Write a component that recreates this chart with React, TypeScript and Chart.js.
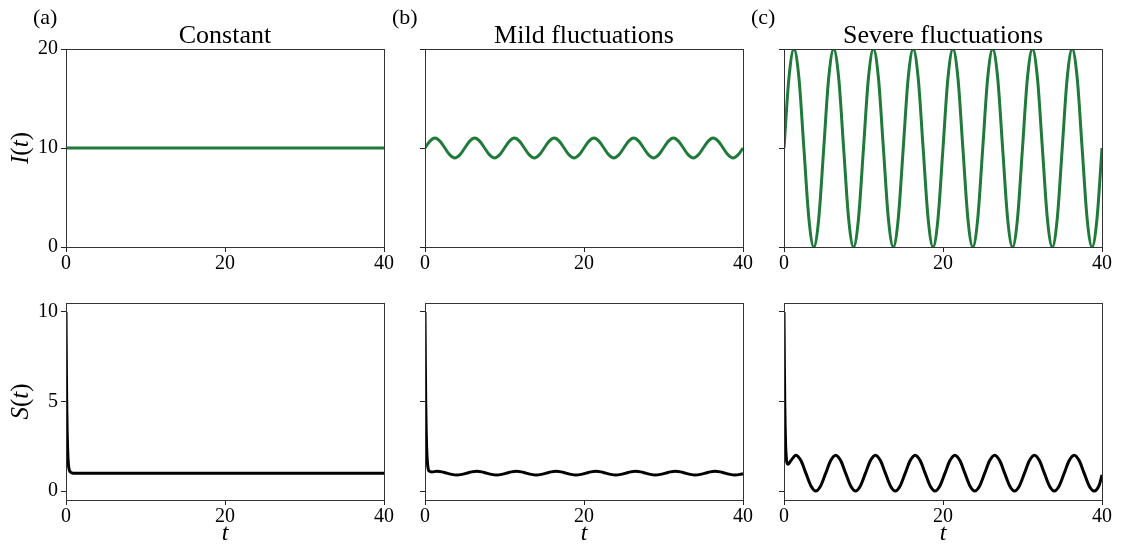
import React, { useEffect, useRef } from 'react';
import { Chart, registerables } from 'chart.js';

Chart.register(...registerables);

// ---------------- data ----------------
const T_CONST = [0, 40];
const I_CONST = [10, 10];

const T_I = [
  0, 0.625, 1.25, 1.875, 2.5, 3.125, 3.75, 4.375,
  5, 5.625, 6.25, 6.875, 7.5, 8.125, 8.75, 9.375,
  10, 10.625, 11.25, 11.875, 12.5, 13.125, 13.75, 14.375,
  15, 15.625, 16.25, 16.875, 17.5, 18.125, 18.75, 19.375,
  20, 20.625, 21.25, 21.875, 22.5, 23.125, 23.75, 24.375,
  25, 25.625, 26.25, 26.875, 27.5, 28.125, 28.75, 29.375,
  30, 30.625, 31.25, 31.875, 32.5, 33.125, 33.75, 34.375,
  35, 35.625, 36.25, 36.875, 37.5, 38.125, 38.75, 39.375,
  40,
];

const I_MILD = [
  10, 10.7, 11, 10.7, 10, 9.3, 9, 9.3,
  10, 10.7, 11, 10.7, 10, 9.3, 9, 9.3,
  10, 10.7, 11, 10.7, 10, 9.3, 9, 9.3,
  10, 10.7, 11, 10.7, 10, 9.3, 9, 9.3,
  10, 10.7, 11, 10.7, 10, 9.3, 9, 9.3,
  10, 10.7, 11, 10.7, 10, 9.3, 9, 9.3,
  10, 10.7, 11, 10.7, 10, 9.3, 9, 9.3,
  10, 10.7, 11, 10.7, 10, 9.3, 9, 9.3,
  10,
];

const I_SEVERE = [
  10, 17.1, 20, 17.1, 10, 2.9, 0, 2.9,
  10, 17.1, 20, 17.1, 10, 2.9, 0, 2.9,
  10, 17.1, 20, 17.1, 10, 2.9, 0, 2.9,
  10, 17.1, 20, 17.1, 10, 2.9, 0, 2.9,
  10, 17.1, 20, 17.1, 10, 2.9, 0, 2.9,
  10, 17.1, 20, 17.1, 10, 2.9, 0, 2.9,
  10, 17.1, 20, 17.1, 10, 2.9, 0, 2.9,
  10, 17.1, 20, 17.1, 10, 2.9, 0, 2.9,
  10,
];

const T_S = [
  0, 0.05, 0.1, 0.15, 0.2, 0.3, 0.4, 0.5,
  0.875, 1.5, 2.125, 2.75, 3.375, 4, 4.625, 5.25,
  5.875, 6.5, 7.125, 7.75, 8.375, 9, 9.625, 10.25,
  10.875, 11.5, 12.125, 12.75, 13.375, 14, 14.625, 15.25,
  15.875, 16.5, 17.125, 17.75, 18.375, 19, 19.625, 20.25,
  20.875, 21.5, 22.125, 22.75, 23.375, 24, 24.625, 25.25,
  25.875, 26.5, 27.125, 27.75, 28.375, 29, 29.625, 30.25,
  30.875, 31.5, 32.125, 32.75, 33.375, 34, 34.625, 35.25,
  35.875, 36.5, 37.125, 37.75, 38.375, 39, 39.625, 40,
];

const S_CONST = [
  10, 6.7, 4.6, 3.3, 2.4, 1.5, 1.2, 1.08,
  1, 1, 1, 1, 1, 1, 1, 1,
  1, 1, 1, 1, 1, 1, 1, 1,
  1, 1, 1, 1, 1, 1, 1, 1,
  1, 1, 1, 1, 1, 1, 1, 1,
  1, 1, 1, 1, 1, 1, 1, 1,
  1, 1, 1, 1, 1, 1, 1, 1,
  1, 1, 1, 1, 1, 1, 1, 1,
  1, 1, 1, 1, 1, 1, 1, 1,
];

const S_MILD = [
  10, 6.8, 4.7, 3.4, 2.5, 1.6, 1.25, 1.12,
  1.07, 1.1, 1.07, 1, 0.93, 0.9, 0.93, 1,
  1.07, 1.1, 1.07, 1, 0.93, 0.9, 0.93, 1,
  1.07, 1.1, 1.07, 1, 0.93, 0.9, 0.93, 1,
  1.07, 1.1, 1.07, 1, 0.93, 0.9, 0.93, 1,
  1.07, 1.1, 1.07, 1, 0.93, 0.9, 0.93, 1,
  1.07, 1.1, 1.07, 1, 0.93, 0.9, 0.93, 1,
  1.07, 1.1, 1.07, 1, 0.93, 0.9, 0.93, 1,
  1.07, 1.1, 1.07, 1, 0.93, 0.9, 0.93, 0.97,
];

const S_SEVERE = [
  10, 6.9, 4.8, 3.5, 2.6, 1.8, 1.55, 1.5,
  1.7, 2, 1.7, 1, 0.3, 0, 0.3, 1,
  1.7, 2, 1.7, 1, 0.3, 0, 0.3, 1,
  1.7, 2, 1.7, 1, 0.3, 0, 0.3, 1,
  1.7, 2, 1.7, 1, 0.3, 0, 0.3, 1,
  1.7, 2, 1.7, 1, 0.3, 0, 0.3, 1,
  1.7, 2, 1.7, 1, 0.3, 0, 0.3, 1,
  1.7, 2, 1.7, 1, 0.3, 0, 0.3, 1,
  1.7, 2, 1.7, 1, 0.3, 0, 0.3, 0.9,
];

const X_TICKS = [0, 20, 40];
const I_TICKS = [0, 10, 20];
const S_TICKS = [0, 5, 10];
const TITLES = ['Constant', 'Mild fluctuations', 'Severe fluctuations'];
const TAGS = ['(a)', '(b)', '(c)'];

const GREEN = '#207a3a';
const SERIF = '"Liberation Serif", "Times New Roman", serif';

// ---------------- decoration plugin ----------------
const decor = {
  id: 'decor',
  afterDraw(chart: any, _args: any, o: any) {
    const { ctx, chartArea: a } = chart;
    ctx.save();
    // frame (all four spines)
    const al = (v: number) => Math.round(v - 0.5) + 0.5;
    ctx.strokeStyle = '#333';
    ctx.lineWidth = 1;
    ctx.strokeRect(al(a.left), al(a.top), al(a.right) - al(a.left), al(a.bottom) - al(a.top));
    ctx.fillStyle = '#000';
    ctx.textBaseline = 'alphabetic';
    if (o.title) {
      ctx.font = `26px ${SERIF}`;
      ctx.textAlign = 'center';
      ctx.fillText(o.title, (a.left + a.right) / 2, a.top - 6);
    }
    if (o.tag) {
      ctx.font = `22px ${SERIF}`;
      ctx.textAlign = 'left';
      ctx.fillText(o.tag, a.left - 33, a.top - 25);
    }
    if (o.yLabel) {
      const segs: [string, boolean][] = o.yLabel;
      const fonts = segs.map(([, it]) => `${it ? 'italic ' : ''}25px ${SERIF}`);
      let total = 0;
      const widths = segs.map(([s], i) => {
        ctx.font = fonts[i];
        const w = ctx.measureText(s).width;
        total += w;
        return w;
      });
      ctx.translate(a.left - 38, (a.top + a.bottom) / 2);
      ctx.rotate(-Math.PI / 2);
      ctx.textAlign = 'left';
      let x = -total / 2;
      segs.forEach(([s], i) => {
        ctx.font = fonts[i];
        ctx.fillText(s, x, 0);
        x += widths[i];
      });
      ctx.setTransform(1, 0, 0, 1, 0, 0);
    }
    if (o.xLabel) {
      ctx.font = `italic 24px ${SERIF}`;
      ctx.textAlign = 'center';
      ctx.fillText(o.xLabel, (a.left + a.right) / 2, a.bottom + 40);
    }
    ctx.restore();
  },
};

type PanelProps = {
  left: number;
  top: number;
  width: number;
  height: number;
  padTop: number;
  padRight: number;
  xAxisH: number;
  xs: number[];
  ys: number[];
  color: string;
  yMin: number;
  yMax: number;
  yTicks: number[];
  showYLabels: boolean;
  title?: string;
  tag?: string;
  yLabel?: [string, boolean][];
  xLabel?: string;
};

const tickFont = { family: SERIF, size: 20, lineHeight: 1 };

function Panel(p: PanelProps) {
  const ref = useRef<HTMLCanvasElement | null>(null);
  useEffect(() => {
    if (!ref.current) return;
    const chart = new Chart(ref.current, {
      type: 'line',
      data: {
        datasets: [
          {
            data: p.xs.map((x, i) => ({ x, y: p.ys[i] })),
            borderColor: p.color,
            borderWidth: 3,
            pointRadius: 0,
            cubicInterpolationMode: 'monotone',
            fill: false,
            clip: 0,
          } as any,
        ],
      },
      options: {
        animation: false,
        responsive: false,
        events: [],
        layout: { padding: { left: 0, right: p.padRight, top: p.padTop, bottom: 0 } },
        plugins: {
          legend: { display: false },
          tooltip: { enabled: false },
          title: { display: false },
          decor: { title: p.title, tag: p.tag, yLabel: p.yLabel, xLabel: p.xLabel },
        } as any,
        scales: {
          x: {
            type: 'linear',
            min: 0,
            max: 40,
            afterBuildTicks: (s: any) => {
              s.ticks = X_TICKS.map((v) => ({ value: v }));
            },
            afterFit: (s: any) => {
              s.height = p.xAxisH;
            },
            grid: { display: true, drawOnChartArea: false, drawTicks: true, tickLength: 5, tickColor: '#222', tickWidth: 1 },
            border: { display: false },
            ticks: {
              font: tickFont,
              color: '#000',
              padding: 2,
              maxRotation: 0,
              autoSkip: false,
              callback: (v: any) => String(v),
            },
          },
          y: {
            type: 'linear',
            min: p.yMin,
            max: p.yMax,
            afterBuildTicks: (s: any) => {
              s.ticks = p.yTicks.map((v) => ({ value: v }));
            },
            afterFit: (s: any) => {
              s.width = 66;
            },
            grid: { display: true, drawOnChartArea: false, drawTicks: true, tickLength: 5, tickColor: '#222', tickWidth: 1 },
            border: { display: false },
            ticks: {
              font: tickFont,
              color: '#000',
              padding: 3,
              autoSkip: false,
              callback: (v: any) => (p.showYLabels ? String(v) : ''),
            },
          },
        },
      } as any,
      plugins: [decor as any],
    });
    return () => chart.destroy();
  }, []);
  return (
    <canvas
      ref={ref}
      width={p.width}
      height={p.height}
      style={{ position: 'absolute', left: p.left, top: p.top, width: p.width, height: p.height, display: 'block' }}
    />
  );
}

const COLS = [
  { left: 66, w: 318 },
  { left: 425, w: 318 },
  { left: 784, w: 318 },
];
const ROWS = [
  { top: 49, h: 198, canvasTop: 0, xAxisH: 30 },
  { top: 303, h: 197, canvasTop: 283, xAxisH: 48 },
];

export default function App() {
  const topSeries = [
    { xs: T_CONST, ys: I_CONST },
    { xs: T_I, ys: I_MILD },
    { xs: T_I, ys: I_SEVERE },
  ];
  const botSeries = [
    { xs: T_S, ys: S_CONST },
    { xs: T_S, ys: S_MILD },
    { xs: T_S, ys: S_SEVERE },
  ];
  const padRight = 17;
  const panels: PanelProps[] = [];
  COLS.forEach((c, i) => {
    const r = ROWS[0];
    panels.push({
      left: c.left - 66,
      top: r.canvasTop,
      width: 66 + c.w + padRight,
      height: r.top - r.canvasTop + r.h + r.xAxisH,
      padTop: r.top - r.canvasTop,
      padRight,
      xAxisH: r.xAxisH,
      xs: topSeries[i].xs,
      ys: topSeries[i].ys,
      color: GREEN,
      yMin: 0,
      yMax: 20,
      yTicks: I_TICKS,
      showYLabels: i === 0,
      title: TITLES[i],
      tag: TAGS[i],
      yLabel: i === 0 ? [['I', true], ['(', false], ['t', true], [')', false]] : undefined,
    });
  });
  COLS.forEach((c, i) => {
    const r = ROWS[1];
    panels.push({
      left: c.left - 66,
      top: r.canvasTop,
      width: 66 + c.w + padRight,
      height: r.top - r.canvasTop + r.h + r.xAxisH,
      padTop: r.top - r.canvasTop,
      padRight,
      xAxisH: r.xAxisH,
      xs: botSeries[i].xs,
      ys: botSeries[i].ys,
      color: '#000',
      yMin: -0.5,
      yMax: 10.5,
      yTicks: S_TICKS,
      showYLabels: i === 0,
      yLabel: i === 0 ? [['S', true], ['(', false], ['t', true], [')', false]] : undefined,
      xLabel: 't',
    });
  });
  return (
    <div style={{ position: 'fixed', left: 0, top: 0, width: 1121, height: 548, background: '#fff', overflow: 'hidden' }}>
      {panels.map((p, i) => (
        <Panel key={i} {...p} />
      ))}
    </div>
  );
}
